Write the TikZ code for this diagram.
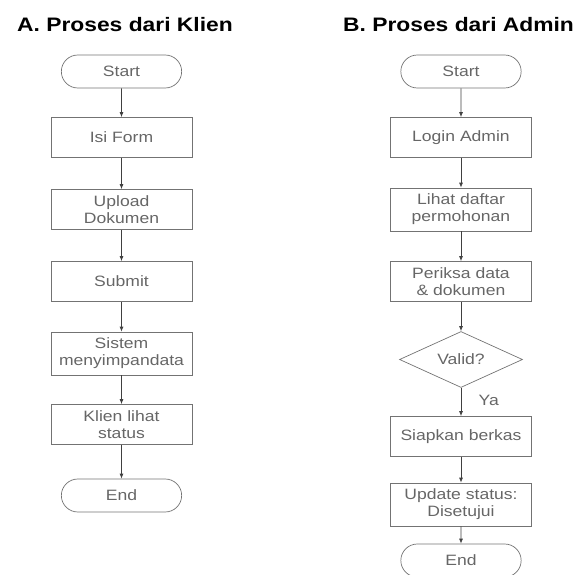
\documentclass[tikz,border=0pt]{standalone}
\usepackage{fontspec}
\setmainfont{Liberation Sans}[FakeStretch=1.17]
\usepackage{xcolor}
\usepackage{tikz}
\usetikzlibrary{positioning,shapes.misc,shapes.geometric,arrows.meta}

\begin{document}
\begin{tikzpicture}[
            % Distancia entre nodos
            node distance=72pt,
            % Estilos de los bloques
            block/.style={rectangle, draw=black!55, line width=0.7pt, text=black!60, minimum width=141pt, minimum height=40pt, inner ysep=6pt, align=center, font=\fontsize{15}{17}\selectfont},
            terminal/.style={rounded rectangle, draw=black!55, line width=0.7pt, text=black!60, minimum width=127pt, minimum height=33pt, font=\fontsize{15}{17}\selectfont},
            decision/.style={diamond, draw=black!55, line width=0.7pt, text=black!60, aspect=2.2, minimum width=123pt, minimum height=56pt, inner sep=0pt, font=\fontsize{15}{17}\selectfont},
            heading/.style={anchor=west, inner sep=0pt, font=\bfseries\fontsize{19.5}{22}\selectfont},
            line/.style={draw=black!75, line width=0.8pt, -{Latex[length=5pt,width=4pt]}}
        ]
            \useasboundingbox (0pt,0pt) rectangle (576pt,-575pt);

            % Proses dari Klien
            \node [heading] (titleA) at (17pt,-25pt) {A. Proses dari Klien};
            \node [terminal] (startA) at (121.5pt,-71.5pt) {Start};
            \node [block, below of=startA, yshift=6pt] (isiform) {Isi Form};
            \node [block, below of=isiform] (upload) {Upload\\Dokumen};
            \node [block, below of=upload] (submit) {Submit};
            \node [block, below of=submit] (simpan) {Sistem\\menyimpandata};
            \node [block, below of=simpan, yshift=1pt] (lihatstatus) {Klien lihat\\status};
            \node [terminal, below of=lihatstatus, yshift=1pt] (endA) {End};

            % Proses dari Admin
            \node [heading] (titleB) at (343pt,-25pt) {B. Proses dari Admin};
            \node [terminal] (startB) at (461pt,-71.5pt) {Start};
            \node [block, below of=startB, yshift=6pt] (login) {Login Admin};
            \node [block, below of=login] (daftar) {Lihat daftar\\permohonan};
            \node [block, below of=daftar] (periksa) {Periksa data\\\& dokumen};
            \node [decision, below of=periksa, yshift=-6pt] (valid) {Valid?};
            \node [block, below of=valid, yshift=-5pt] (siapkan) {Siapkan berkas};
            \node [block, below of=siapkan, yshift=4pt] (update) {Update status:\\Disetujui};
            \node [terminal, below of=update, yshift=16pt] (endB) {End};

            \path [line] (startA) -- (isiform);
            \path [line] (isiform) -- (upload);
            \path [line] (upload) -- (submit);
            \path [line] (submit) -- (simpan);
            \path [line] (simpan) -- (lihatstatus);
            \path [line] (lihatstatus) -- (endA);

            \path [line] (startB) -- (login);
            \path [line] (login) -- (daftar);
            \path [line] (daftar) -- (periksa);
            \path [line] (periksa) -- (valid);
            \path [line] (valid) -- node [right, xshift=14pt, yshift=2pt, text=black!60, font=\fontsize{15}{17}\selectfont] {Ya} (siapkan);
            \path [line] (siapkan) -- (update);
            \path [line] (update) -- (endB);
        \end{tikzpicture}
\end{document}
